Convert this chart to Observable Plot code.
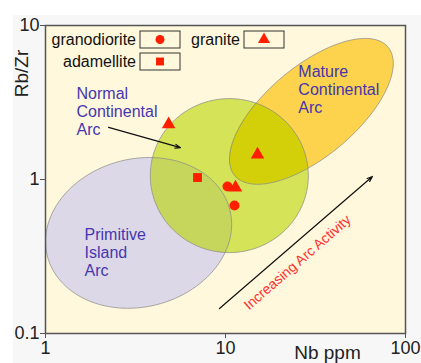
<!DOCTYPE html>
<html><head><meta charset="utf-8">
<script src="https://cdn.jsdelivr.net/npm/d3@7"></script>
<script src="https://cdn.jsdelivr.net/npm/@observablehq/plot@0.6"></script>
<style>
html,body{margin:0;padding:0;background:#fff;}
#wrap{position:relative;width:421px;height:363px;overflow:hidden;}
#bg{position:absolute;left:13px;top:15px;right:0;bottom:0;background:#f7f7f7;}
#chart{position:absolute;left:0;top:0;}
</style></head><body>
<div id="wrap"><div id="bg"></div><div id="chart"></div></div>
<script>
// ---- data ----
const rockTypes = ["granodiorite", "granite", "adamellite"];
const rockSymbols = ["circle", "triangle", "square"];

const sampleType = ["granodiorite", "granodiorite", "granite", "granite", "granite", "adamellite"];
const sampleNb   = [10.26, 11.22, 4.83, 15.06, 11.36, 6.99];
const sampleRbZr = [0.90, 0.678, 2.28, 1.453, 0.887, 1.03];

// tectonic fields: centre (Nb, Rb/Zr) and conjugate semi-axes in log10 decades
const fieldNames = ["Primitive Island Arc", "Mature Continental Arc", "Normal Continental Arc"];
const fieldNb    = [3.29, 30.0, 10.5];
const fieldRbZr  = [0.45, 2.77, 1.06];
const fieldAxisU = [[0.507, 0.150], [0.4256, 0.4175], [0.439, 0]];
const fieldAxisV = [[-0.101, 0.466], [-0.1607, 0.2238], [0, 0.5]];
const fieldFill  = ["#ddd8e7", "#fdd24c", "#b8d500"];
const fieldAlpha = [1, 1, 0.6];
const overlapFill = "#d3cf08"; // mature ∩ normal continental arc

const labelText = ["Normal\nContinental\nArc", "Mature\nContinental\nArc", "Primitive\nIsland\nArc"];
const labelNb   = [1.487, 25.4, 1.647];
const labelRbZr = [2.765, 3.84, 0.336];

const arrowFrom = [[2.24, 2.18], [9.26, 0.1453]];
const arrowTo   = [[5.62, 1.61], [65.5, 1.046]];

const trendText = "Increasing Arc Activity";
const trendPos  = [25.1, 0.289];

const xTicks = [1, 10, 100];
const yTicks = [0.1, 1, 10];

// ---- build tables ----
const samples = sampleType.map((t, i) => ({type: t, nb: sampleNb[i], rbzr: sampleRbZr[i]}));
function outline(i) {
  const pts = [];
  const N = 120;
  const lx = Math.log10(fieldNb[i]), ly = Math.log10(fieldRbZr[i]);
  const [ux, uy] = fieldAxisU[i], [vx, vy] = fieldAxisV[i];
  for (let k = 0; k < N; k++) {
    const t = 2 * Math.PI * k / N;
    pts.push({x: 10 ** (lx + ux * Math.cos(t) + vx * Math.sin(t)),
              y: 10 ** (ly + uy * Math.cos(t) + vy * Math.sin(t))});
  }
  return pts;
}
const outlines = fieldNames.map((n, i) => outline(i));
const labels = labelText.map((t, i) => ({text: t, nb: labelNb[i], rbzr: labelRbZr[i]}));
const arrows = arrowFrom.map((f, i) => ({x1: f[0], y1: f[1], x2: arrowTo[i][0], y2: arrowTo[i][1]}));

const RED = "#ff1e00";
const FONT = "'Liberation Sans', Arial, sans-serif";

function overlapMark(index, scales) {
  const line = d3.line().x(p => scales.x(p.x)).y(p => scales.y(p.y));
  const g = d3.create("svg:g");
  const id = "clipNormal";
  g.append("clipPath").attr("id", id).append("path").attr("d", line(outlines[2]) + "Z");
  g.append("path").attr("d", line(outlines[1]) + "Z").attr("fill", overlapFill)
    .attr("clip-path", `url(#${id})`);
  return g.node();
}

function legendMark(index, scales, values, dims) {
  const g = d3.create("svg:g").attr("font-family", FONT).attr("font-size", 16).attr("fill", "#111");
  const x0 = dims.marginLeft, y0 = dims.marginTop;
  const slots = [[95, 6], [199, 6], [95, 28]];
  rockTypes.forEach((t, i) => {
    const [bx, by] = slots[i];
    g.append("text").attr("x", x0 + bx - 4).attr("y", y0 + by + 8.5)
      .attr("text-anchor", "end").attr("dy", "0.35em").text(t);
    g.append("rect").attr("x", x0 + bx).attr("y", y0 + by).attr("width", 40).attr("height", 17)
      .attr("fill", "none").attr("stroke", "#333").attr("stroke-width", 1);
    const sym = {circle: d3.symbolCircle, triangle: d3.symbolTriangle, square: d3.symbolSquare}[rockSymbols[i]];
    g.append("path").attr("transform", `translate(${x0 + bx + 20},${y0 + by + 8.5})`)
      .attr("d", d3.symbol(sym, Math.PI * 20)()).attr("fill", RED);
  });
  return g.node();
}

const chart = Plot.plot({
  width: 421, height: 363,
  marginLeft: 45, marginRight: 16, marginTop: 25, marginBottom: 30,
  style: {background: "transparent", fontFamily: FONT, color: "#222", overflow: "visible"},
  x: {type: "log", domain: [1, 100]},
  y: {type: "log", domain: [0.1, 10]},
  symbol: {domain: rockTypes, range: rockSymbols},
  marks: [
    Plot.frame({fill: "#fff8dd", stroke: null}),
    ...outlines.map((pts, i) => Plot.line(pts, {
      x: "x", y: "y", curve: "linear-closed",
      fill: fieldFill[i], fillOpacity: fieldAlpha[i], stroke: null
    })),
    overlapMark,
    ...outlines.map((pts) => Plot.line(pts, {
      x: "x", y: "y", curve: "linear-closed", fill: "none",
      stroke: "#8a8a8a", strokeWidth: 0.8, strokeOpacity: 0.9
    })),
    Plot.text(labels, {x: "nb", y: "rbzr", text: "text", textAnchor: "start", lineAnchor: "middle",
      fontSize: 16, lineHeight: 1.13, fill: "#4636b0"}),
    Plot.arrow(arrows, {x1: "x1", y1: "y1", x2: "x2", y2: "y2", stroke: "#111", strokeWidth: 1.2,
      headLength: 7, headAngle: 40}),
    Plot.text([trendText], {x: () => trendPos[0], y: () => trendPos[1], text: d => d, rotate: -41,
      fontSize: 14, fill: "#ff3030"}),
    Plot.dot(samples, {x: "nb", y: "rbzr", symbol: "type", fill: RED, stroke: null, r: 5}),
    legendMark,
    Plot.axisX({ticks: xTicks, tickFormat: d => String(d), tickSize: 5, tickPadding: 3, fontSize: 18, label: null, stroke: "#555"}),
    Plot.axisY({ticks: yTicks, tickFormat: d => String(d), tickSize: 5, tickPadding: 1, fontSize: 18, label: null, stroke: "#555"}),
    Plot.text(["Rb/Zr"], {frameAnchor: "top-left", dx: -24, dy: 48, rotate: -90, textAnchor: "middle",
      lineAnchor: "middle", fontSize: 19, fill: "#222"}),
    Plot.text(["Nb ppm"], {frameAnchor: "bottom", dx: 102, dy: 19, lineAnchor: "middle", fontSize: 19, fill: "#222"}),
    Plot.frame({stroke: "#555", strokeWidth: 1.5})
  ]
});
document.getElementById("chart").appendChild(chart);
</script>
</body></html>
